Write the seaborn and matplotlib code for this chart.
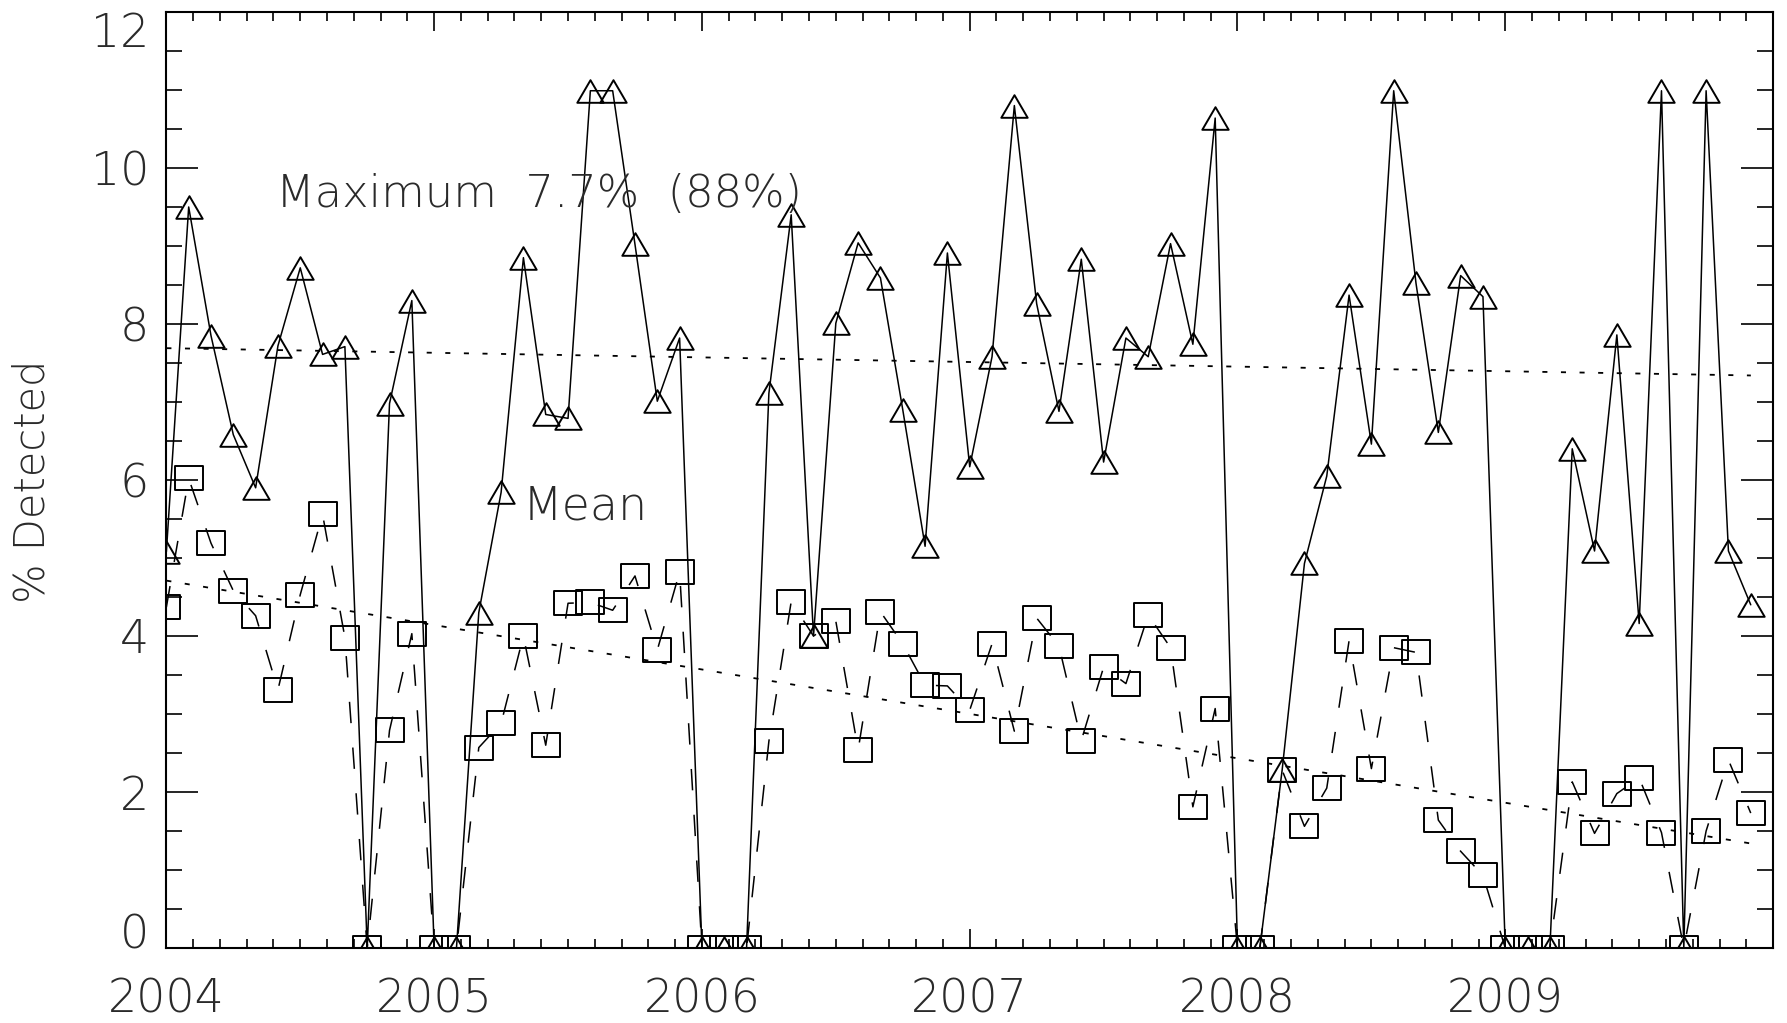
import numpy as np
import pandas as pd
import matplotlib
matplotlib.use("Agg")
import matplotlib.pyplot as plt
import seaborn as sns
from matplotlib.path import Path
from matplotlib.ticker import MultipleLocator, FixedLocator

# ---------------- data ----------------
months = pd.date_range("2004-01-01", periods=72, freq="MS")

max_pct = [5.08, 9.50, 7.85, 6.58, 5.90, 7.72, 8.72, 7.61, 7.71, 0.00, 6.98, 8.30,
           0.00, 0.00, 4.30, 5.84, 8.85, 6.84, 6.79, 10.99, 10.99, 9.02, 7.01, 7.82,
           0.00, 0.00, 0.00, 7.11, 9.40, 4.00, 8.01, 9.04, 8.59, 6.90, 5.15, 8.91,
           6.17, 7.58, 10.80, 8.26, 6.88, 8.83, 6.23, 7.82, 7.58, 9.03, 7.74, 10.64,
           0.00, 0.00, 2.28, 4.93, 6.05, 8.37, 6.46, 10.99, 8.52, 6.61, 8.62, 8.35,
           0.00, 0.00, 0.00, 6.40, 5.09, 7.86, 4.16, 10.99, 0.00, 10.99, 5.09, 4.40]

mean_pct = [4.37, 6.02, 5.19, 4.58, 4.26, 3.31, 4.53, 5.56, 3.98, 0.00, 2.79, 4.03,
            0.00, 0.00, 2.57, 2.88, 4.00, 2.60, 4.42, 4.43, 4.33, 4.77, 3.82, 4.82,
            0.00, 0.00, 0.00, 2.65, 4.44, 4.00, 4.19, 2.54, 4.31, 3.90, 3.37, 3.36,
            3.05, 3.90, 2.78, 4.23, 3.87, 2.66, 3.60, 3.39, 4.27, 3.85, 1.81, 3.07,
            0.00, 0.00, 2.28, 1.56, 2.05, 3.94, 2.30, 3.85, 3.79, 1.64, 1.24, 0.93,
            0.00, 0.00, 0.00, 2.13, 1.47, 1.98, 2.18, 1.48, 0.00, 1.50, 2.41, 1.73]

trend_years = [2004.0, 2009.917]
max_trend = [7.69, 7.34]
mean_trend = [4.71, 1.34]

year_ticks = [2004, 2005, 2006, 2007, 2008, 2009]
y_ticks = [0, 2, 4, 6, 8, 10, 12]

max_label = "Maximum  7.7%  (88%)"
mean_label = "Mean"
y_title = "% Detected"

# ---------------- style ----------------
sns.set_style("white")
plt.rcParams["font.family"] = ["DejaVu Sans"]
plt.rcParams["font.weight"] = 200
plt.rcParams["text.color"] = "#2a2a2a"
plt.rcParams["xtick.color"] = "#2a2a2a"
plt.rcParams["ytick.color"] = "#2a2a2a"
FS = 33

decimal_year = months.year + (months.month - 1) / 12.0
df = pd.DataFrame({"year": decimal_year, "max": max_pct, "mean": mean_pct})
trend = pd.DataFrame({"year": trend_years, "max": max_trend, "mean": mean_trend})

tri = Path([(-1, -0.857), (1, -0.857), (0, 0.857), (-1, -0.857)],
           [Path.MOVETO, Path.LINETO, Path.LINETO, Path.CLOSEPOLY])
sq = Path([(-1, -0.9), (1, -0.9), (1, 0.9), (-1, 0.9), (-1, -0.9)],
          [Path.MOVETO, Path.LINETO, Path.LINETO, Path.LINETO, Path.CLOSEPOLY])

fig = plt.figure(figsize=(17.87, 10.23), dpi=100)
ax = fig.add_axes([0.0931, 0.0733, 0.8991, 0.9150])

dotted = (0, (2.8, 7.5))
sns.lineplot(data=trend, x="year", y="max", ax=ax, color="black", linewidth=1.3,
             linestyle=dotted, errorbar=None, legend=False)
sns.lineplot(data=trend, x="year", y="mean", ax=ax, color="black", linewidth=1.3,
             linestyle=dotted, errorbar=None, legend=False)

sns.lineplot(data=df, x="year", y="max", ax=ax, color="black", linewidth=1.1,
             marker=tri, markersize=19, markerfacecolor="none",
             markeredgecolor="black", markeredgewidth=1.4,
             errorbar=None, legend=False)
sns.lineplot(data=df, x="year", y="mean", ax=ax, color="black", linewidth=1.1,
             linestyle=(0, (14, 16)),
             marker=sq, markersize=19.5, markerfacecolor="none",
             markeredgecolor="black", markeredgewidth=1.4,
             errorbar=None, legend=False)

ax.set_xlim(2004, 2010)
ax.set_ylim(0, 12)
ax.set_xlabel("")
ax.set_ylabel("")

ax.xaxis.set_major_locator(FixedLocator(year_ticks))
ax.set_xticklabels([str(y) for y in year_ticks])
ax.xaxis.set_minor_locator(MultipleLocator(0.1))
ax.yaxis.set_major_locator(FixedLocator(y_ticks))
ax.set_yticklabels([str(v) for v in y_ticks])
ax.yaxis.set_minor_locator(MultipleLocator(0.5))

ax.tick_params(axis="x", which="major", direction="in", length=13.5, width=1.2,
               top=True, bottom=True, pad=21.5, labelsize=FS, color="black")
ax.tick_params(axis="x", which="minor", direction="in", length=6.7, width=1.2,
               top=True, bottom=True, color="black")
ax.tick_params(axis="y", which="major", direction="in", length=23, width=1.2,
               left=True, right=True, pad=12.5, labelsize=FS, color="black")
ax.tick_params(axis="y", which="minor", direction="in", length=11.5, width=1.2,
               left=True, right=True, color="black")

yt = ax.yaxis.get_major_ticks()
yt[0].label1.set_va("baseline")
yt[-1].label1.set_va("top")

for s in ax.spines.values():
    s.set_visible(True)
    s.set_color("black")
    s.set_linewidth(1.5)

ax.text(2004.41, 9.50, max_label, fontsize=32.2, ha="left", va="baseline")
ax.text(2005.33, 5.49, mean_label, fontsize=FS, ha="left", va="baseline")
fig.text(32 / 1787, 1 - 481 / 1023, y_title, rotation=90, ha="center",
         va="center", fontsize=30)

fig.savefig("out.png", dpi=100, facecolor="white")
